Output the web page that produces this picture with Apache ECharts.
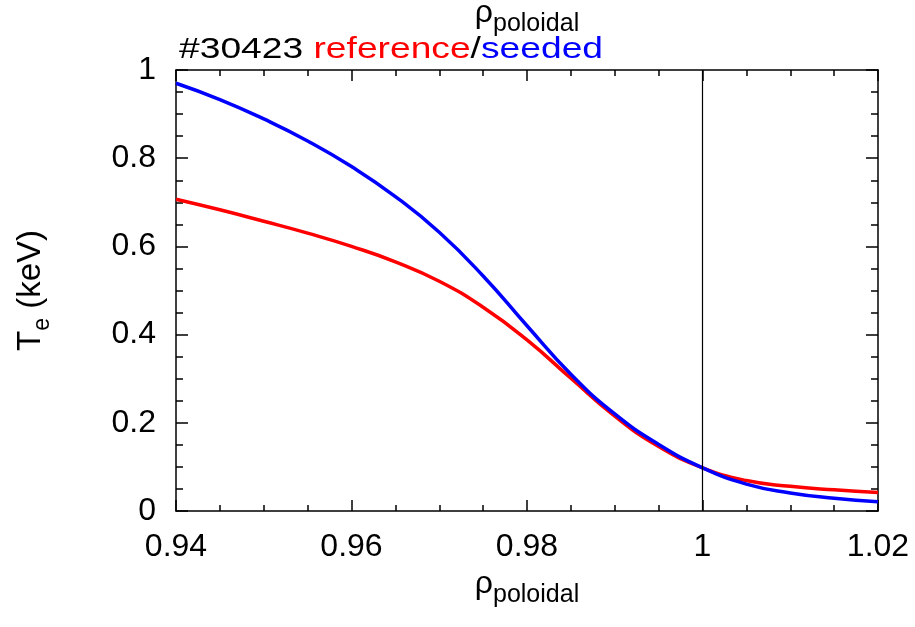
<!DOCTYPE html>
<html>
<head>
<meta charset="utf-8">
<script src="https://cdn.jsdelivr.net/npm/echarts@6/dist/echarts.min.js"></script>
<style>html,body{margin:0;padding:0;background:#fff;}#c{width:915px;height:627px;}</style>
</head>
<body>
<div id="c"></div>
<script>
// rho_poloidal grid
const rho = [0.940, 0.945, 0.950, 0.955, 0.960, 0.965, 0.970, 0.975, 0.980, 0.985, 0.990, 0.995, 1.000, 1.005, 1.010, 1.015, 1.020];
// Te (keV), reference discharge (red)
const teReference = [0.707, 0.683, 0.657, 0.630, 0.600, 0.565, 0.521, 0.462, 0.388, 0.301, 0.215, 0.146, 0.098, 0.069, 0.056, 0.048, 0.042];
// Te (keV), seeded discharge (blue)
const teSeeded = [0.970, 0.933, 0.889, 0.839, 0.781, 0.713, 0.632, 0.533, 0.420, 0.310, 0.220, 0.151, 0.098, 0.061, 0.041, 0.029, 0.021];
const separatrix = 1.0;
const titleShot = '#30423 ';
const titleRef = 'reference';
const titleSeed = 'seeded';

const FONT = '"Liberation Sans", Arial, Helvetica, sans-serif';
const chart = echarts.init(document.getElementById('c'), null, {renderer: 'canvas'});

function pairs(xs, ys) { return xs.map((x, i) => [x, ys[i]]); }

const rhoName = {
  formatter: '{r|ρ}{s|poloidal}',
  rich: {
    r: {fontSize: 32, fontFamily: FONT, color: '#000', lineHeight: 40, verticalAlign: 'top'},
    s: {fontSize: 25, fontFamily: FONT, color: '#000', lineHeight: 25, verticalAlign: 'bottom'}
  }
};

const tickFont = {fontSize: 32, fontFamily: FONT, color: '#000'};
const axLine = {show: true, onZero: false, lineStyle: {color: '#000', width: 1.5}};

const option = {
  backgroundColor: '#fff',
  animation: false,
  grid: {left: 176, right: 37, top: 70, bottom: 116, containLabel: false, outerBoundsMode: 'none'},
  graphic: [{
    type: 'text',
    x: 179, y: 35,
    scaleX: 1.24,
    style: {
      text: '{k|' + titleShot + '}{r|' + titleRef + '}{k|/}{b|' + titleSeed + '}',
      font: '30px ' + FONT,
      verticalAlign: 'top',
      rich: {
        k: {fill: '#000', font: '30px ' + FONT},
        r: {fill: '#ff0000', font: '30px ' + FONT},
        b: {fill: '#0000ff', font: '30px ' + FONT}
      }
    }
  }],
  xAxis: [{
    type: 'value', position: 'bottom', min: 0.94, max: 1.02, interval: 0.02,
    axisLine: axLine,
    axisTick: {show: true, inside: true, length: 11, lineStyle: {color: '#000', width: 1.5}},
    minorTick: {show: true, splitNumber: 4, length: 6, lineStyle: {color: '#000', width: 1.5}},
    splitLine: {show: false},
    axisLabel: Object.assign({margin: 20, formatter: v => String(+v.toFixed(2))}, tickFont),
    name: rhoName.formatter, nameLocation: 'middle', nameGap: 46,
    nameTextStyle: {rich: rhoName.rich}
  }, {
    type: 'value', position: 'top', min: 0.94, max: 1.02, interval: 0.02,
    axisLine: axLine,
    axisTick: {show: true, inside: true, length: 11, lineStyle: {color: '#000', width: 1.5}},
    minorTick: {show: true, splitNumber: 4, length: 6, lineStyle: {color: '#000', width: 1.5}},
    splitLine: {show: false},
    axisLabel: {show: false},
    name: rhoName.formatter, nameLocation: 'middle', nameGap: 33,
    nameTextStyle: {rich: rhoName.rich}
  }],
  yAxis: [{
    type: 'value', position: 'left', min: 0, max: 1, interval: 0.2,
    axisLine: axLine,
    axisTick: {show: true, inside: true, length: 12, lineStyle: {color: '#000', width: 1.5}},
    minorTick: {show: true, splitNumber: 4, length: 7, lineStyle: {color: '#000', width: 1.5}},
    splitLine: {show: false},
    axisLabel: Object.assign({margin: 20, formatter: v => String(+v.toFixed(1))}, tickFont),
    name: '{t|T}{e|e}{t| (keV)}', nameLocation: 'middle', nameGap: 122, nameRotate: 90,
    nameTextStyle: {
      rich: {
        t: {fontSize: 33, fontFamily: FONT, color: '#000', lineHeight: 40, verticalAlign: 'top'},
        e: {fontSize: 23, fontFamily: FONT, color: '#000', lineHeight: 23, verticalAlign: 'bottom'}
      }
    }
  }, {
    type: 'value', position: 'right', min: 0, max: 1, interval: 0.2,
    axisLine: axLine,
    axisTick: {show: true, inside: true, length: 12, lineStyle: {color: '#000', width: 1.5}},
    minorTick: {show: true, splitNumber: 4, length: 7, lineStyle: {color: '#000', width: 1.5}},
    splitLine: {show: false},
    axisLabel: {show: false}
  }],
  series: [{
    name: titleRef, type: 'line', xAxisIndex: 0, yAxisIndex: 0,
    data: pairs(rho, teReference), smooth: 0.5, showSymbol: false, symbol: 'none',
    lineStyle: {color: '#ff0000', width: 3.5},
    markLine: {
      silent: true, symbol: ['none', 'none'], label: {show: false},
      lineStyle: {color: '#000', width: 1.2, type: 'solid'},
      data: [{xAxis: separatrix}]
    }
  }, {
    name: titleSeed, type: 'line', xAxisIndex: 0, yAxisIndex: 0,
    data: pairs(rho, teSeeded), smooth: 0.5, showSymbol: false, symbol: 'none',
    lineStyle: {color: '#0000ff', width: 3.5}
  }]
};
chart.setOption(option);
</script>
</body>
</html>
